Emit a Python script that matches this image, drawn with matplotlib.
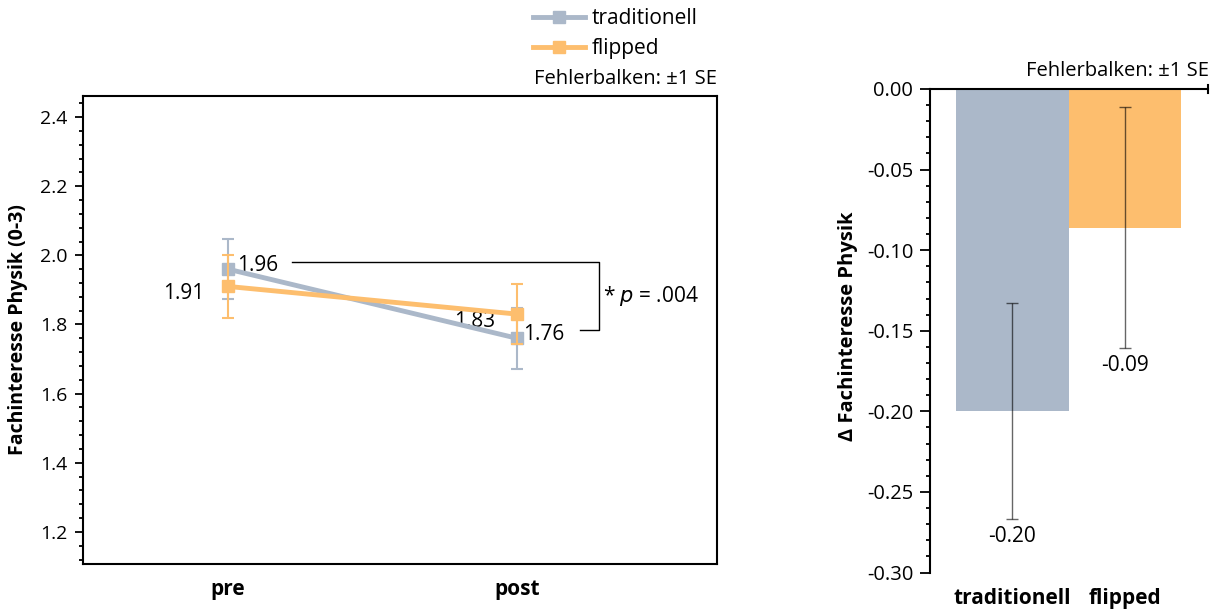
import numpy as np
import matplotlib
matplotlib.use("Agg")
from matplotlib import pyplot as plt
from matplotlib.lines import Line2D
from matplotlib.ticker import MultipleLocator, FormatStrFormatter

plt.rcParams['font.family'] = ['Open Sans', 'DejaVu Sans']
plt.rcParams['font.size'] = 14

# data
times = ['pre', 'post']
groups = ['traditionell', 'flipped']
trad_mean = [1.96, 1.76]
trad_se = [0.087, 0.088]
flip_mean = [1.91, 1.83]
flip_se = [0.09, 0.087]
delta_mean = [-0.20, -0.086]
delta_se = [0.067, 0.075]
delta_labels = ['-0.20', '-0.09']
p_text = '.004'

c_trad = '#abb8c9'
c_flip = '#fdbe6e'

W, H = 1229, 613
fig = plt.figure(figsize=(W / 100, H / 100), dpi=100)

# ---- left panel: pre/post means
ax = fig.add_axes([83 / W, 1 - 564 / H, 634 / W, 468 / H])
x = np.arange(len(times))
ax.errorbar(x, trad_mean, yerr=trad_se, color=c_trad, lw=3.5, marker='s', ms=8,
            capsize=4, elinewidth=1.5, capthick=1.5, zorder=3)
ax.errorbar(x, flip_mean, yerr=flip_se, color=c_flip, lw=3.5, marker='s', ms=8,
            capsize=4, elinewidth=1.5, capthick=1.5, zorder=4)
ax.set_xlim(-0.502, 1.692)
ax.set_ylim(1.107, 2.461)
ax.set_xticks(x)
ax.set_xticklabels(times, fontweight='bold', fontsize=15)
ax.tick_params(axis='x', length=0, pad=11)
ax.yaxis.set_major_locator(MultipleLocator(0.2))
ax.yaxis.set_minor_locator(MultipleLocator(0.04))
ax.yaxis.set_major_formatter(FormatStrFormatter('%.1f'))
ax.tick_params(axis='y', which='major', length=6, width=1.3, pad=5)
ax.tick_params(axis='y', which='minor', length=3, width=1.3)
for s in ax.spines.values():
    s.set_linewidth(1.5)
fig.text(18 / W, 1 - 330 / H, 'Fachinteresse Physik (0-3)', rotation=90,
         ha='center', va='center', fontweight='bold', fontsize=14)

# value labels
ax.text(x[0] + 0.03, trad_mean[0] + 0.01, f'{trad_mean[0]:.2f}', va='center', ha='left', fontsize=15)
ax.text(x[0] - 0.083, flip_mean[0] - 0.02, f'{flip_mean[0]:.2f}', va='center', ha='right', fontsize=15)
ax.text(x[1] - 0.075, flip_mean[1] - 0.022, f'{flip_mean[1]:.2f}', va='center', ha='right', fontsize=15)
ax.text(x[1] + 0.02, trad_mean[1] + 0.01, f'{trad_mean[1]:.2f}', va='center', ha='left', fontsize=15)

# significance bracket
y_top, y_bot = 1.980, 1.783
ax.plot([0.221, 1.284, 1.284, 1.218], [y_top, y_top, y_bot, y_bot], color='black', lw=1)
ax.text(1.298, (y_top + y_bot) / 2, '* $p$ = ' + p_text, va='center', ha='left', fontsize=15)

# legend
handles = [Line2D([], [], color=c_trad, lw=3.5, marker='s', ms=8),
           Line2D([], [], color=c_flip, lw=3.5, marker='s', ms=8)]
fig.legend(handles, groups, loc='upper left', bbox_to_anchor=(533 / W, 1 - 8 / H),
           frameon=False, handlelength=2.5, handletextpad=0.3, labelspacing=0.45,
           fontsize=15, borderaxespad=0, borderpad=0)
fig.text(717 / W, 1 - 79 / H, 'Fehlerbalken: \u00b11 SE', ha='right', va='center', fontsize=14.5)

# ---- right panel: change scores
ax2 = fig.add_axes([930 / W, 1 - 572.5 / H, 278 / W, 483.5 / H])
xb = np.arange(len(groups))
ax2.bar(xb, delta_mean, width=1.0, color=[c_trad, c_flip], zorder=2)
ax2.errorbar(xb, delta_mean, yerr=delta_se, fmt='none', ecolor='black', alpha=0.6,
             elinewidth=1, capsize=4, capthick=1, zorder=3)
ax2.set_xlim(-0.733, 1.738)
ax2.set_ylim(-0.30, 0.0)
ax2.set_xticks(xb)
ax2.set_xticklabels(groups, fontweight='bold', fontsize=15)
ax2.tick_params(axis='x', length=0, pad=11)
ax2.yaxis.set_major_locator(MultipleLocator(0.05))
ax2.yaxis.set_minor_locator(MultipleLocator(0.01))
ax2.yaxis.set_major_formatter(FormatStrFormatter('%.2f'))
ax2.tick_params(axis='y', which='major', length=7, width=1.3, pad=5, labelsize=14.5)
ax2.tick_params(axis='y', which='minor', length=3, width=1.3)
ax2.spines['right'].set_visible(False)
ax2.spines['bottom'].set_visible(False)
ax2.spines['left'].set_linewidth(1.5)
ax2.spines['top'].set_linewidth(1.5)
ax2.plot([1, 1], [-0.0022, 0.0022], transform=ax2.get_yaxis_transform(), color='black',
         lw=1.5, clip_on=False)
fig.text(848 / W, 1 - 326 / H, '\u0394 Fachinteresse Physik', rotation=90,
         ha='center', va='center', fontweight='bold', fontsize=14.5)
for xi, m, se, lab in zip(xb, delta_mean, delta_se, delta_labels):
    ax2.text(xi, m - se - 0.004, lab, ha='center', va='top', fontsize=15)
fig.text(1209 / W, 1 - 71 / H, 'Fehlerbalken: \u00b11 SE', ha='right', va='center', fontsize=14.5)

fig.savefig('out.png', dpi=100)
